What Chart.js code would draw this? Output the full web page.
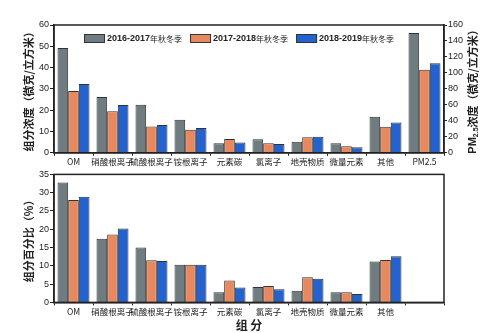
<!DOCTYPE html>
<html>
<head>
<meta charset="utf-8">
<script src="https://cdn.jsdelivr.net/npm/chart.js@4"></script>
<style>
  html, body { margin: 0; padding: 0; background: #fff; }
  #wrap { position: relative; width: 500px; height: 333px; }
  .box { position: absolute; left: 0; width: 500px; }
</style>
</head>
<body>
<div id="wrap">
  <div class="box" style="top:0;height:168px"><canvas id="top"></canvas></div>
  <div class="box" style="top:168px;height:165px"><canvas id="bottom"></canvas></div>
</div>
<script>
const categorias = ['OM', '硝酸根离子', '硫酸根离子', '铵根离子', '元素碳', '氯离子', '地壳物质', '微量元素', '其他', 'PM2.5'];
const temporadas = ['2016-2017年秋冬季', '2017-2018年秋冬季', '2018-2019年秋冬季'];
const cores = ['#6f7c80', '#e8885e', '#2463cf'];

// concentração (µg/m3), eixo esquerdo
const conc1617 = [49.2, 26.2, 22.6, 15.5, 4.5, 6.4, 5.2, 4.5, 16.9];
const conc1718 = [29.0, 19.5, 12.3, 10.8, 6.5, 4.5, 7.3, 3.1, 12.2];
const conc1819 = [32.3, 22.5, 13.0, 11.6, 4.8, 4.1, 7.5, 2.6, 14.2];
// PM2.5, eixo direito
const pm25 = [150, 104, 112];

// percentual (%)
const pct1617 = [32.8, 17.4, 15.0, 10.3, 2.8, 4.2, 3.2, 2.8, 11.2];
const pct1718 = [28.0, 18.6, 11.5, 10.3, 6.0, 4.5, 6.9, 2.8, 11.6];
const pct1819 = [28.9, 20.2, 11.3, 10.3, 4.1, 3.6, 6.5, 2.3, 12.6];

const fonteCJK = '"Noto Sans CJK SC", sans-serif';
const fonteNum = '"Liberation Sans", Arial, sans-serif';

// moldura em volta da área do gráfico
const moldura = {
    id: 'moldura',
    afterDraw(chart) {
        const a = chart.chartArea, c = chart.ctx;
        c.save();
        c.strokeStyle = '#222';
        c.lineWidth = 1.5;
        c.strokeRect(a.left, a.top, a.right - a.left, a.bottom - a.top);
        c.restore();
    }
};

// legenda dentro da área
const legendaInterna = {
    id: 'legendaInterna',
    afterDraw(chart) {
        const c = chart.ctx;
        let x = chart.chartArea.left + 30;
        const y = chart.chartArea.top + 9;
        c.save();
        c.textBaseline = 'middle';
        temporadas.forEach((t, i) => {
            c.fillStyle = cores[i];
            c.fillRect(x, y, 21, 9);
            c.strokeStyle = '#333';
            c.lineWidth = 1;
            c.strokeRect(x + 0.5, y + 0.5, 20, 8);
            c.fillStyle = '#222';
            const ano = t.replace('年秋冬季', '');
            c.font = 'bold 9px ' + fonteNum;
            c.fillText(ano, x + 23, y + 5);
            const w = c.measureText(ano).width;
            c.font = '8px ' + fonteCJK;
            c.fillText('年秋冬季', x + 23 + w, y + 5);
            x += 23 + w + c.measureText('年秋冬季').width + 8;
        });
        c.restore();
    }
};

// título do eixo direito com subscrito
const tituloDireito = {
    id: 'tituloDireito',
    afterDraw(chart) {
        const c = chart.ctx, a = chart.chartArea;
        c.save();
        c.translate(473, (a.top + a.bottom) / 2);
        c.rotate(-Math.PI / 2);
        c.fillStyle = '#222';
        c.textBaseline = 'middle';
        const partes = [
            ['PM', 'bold 11px ' + fonteNum, 0],
            ['2.5', 'bold 7px ' + fonteNum, 3],
            ['浓度（微克/立方米）', 'bold 11px ' + fonteCJK, 0]
        ];
        let total = 0;
        partes.forEach(p => { c.font = p[1]; total += c.measureText(p[0]).width; });
        let x = -total / 2;
        partes.forEach(p => {
            c.font = p[1];
            c.fillText(p[0], x, p[2]);
            x += c.measureText(p[0]).width;
        });
        c.restore();
    }
};

function comNulo(arr) { return arr.concat([null]); }
function soPm(v) { return Array(9).fill(null).concat([v]); }

const eixoX = (rotulos) => ({
    offset: true,
    border: { color: '#222', width: 1.5 },
    grid: { offset: true, drawOnChartArea: false, tickLength: 3, color: '#222' },
    ticks: {
        font: { size: 8.5, family: fonteCJK },
        color: '#222',
        maxRotation: 0,
        autoSkip: false,
        padding: 1,
        callback: (v, i) => rotulos[i]
    }
});

const eixoY = (max, passo, titulo) => ({
    min: 0, max: max,
    afterFit: s => { s.width = 32; },
    border: { color: '#222', width: 1.5 },
    grid: { drawOnChartArea: false, tickLength: 4, color: '#222' },
    ticks: { stepSize: passo, font: { size: 9, family: fonteNum }, color: '#222', padding: 1 },
    title: { display: true, text: titulo, font: { size: 11, weight: 'bold', family: fonteCJK }, color: '#222', padding: 0 }
});

const barraBase = {
    borderColor: '#333',
    borderWidth: 1,
    borderSkipped: 'bottom',
    categoryPercentage: 0.82,
    barPercentage: 1.0
};

new Chart(document.getElementById('top'), {
    type: 'bar',
    data: {
        labels: categorias,
        datasets: [
            { ...barraBase, label: temporadas[0], data: comNulo(conc1617), backgroundColor: cores[0], yAxisID: 'y' },
            { ...barraBase, label: temporadas[1], data: comNulo(conc1718), backgroundColor: cores[1], yAxisID: 'y' },
            { ...barraBase, label: temporadas[2], data: comNulo(conc1819), backgroundColor: cores[2], yAxisID: 'y' },
            { ...barraBase, label: temporadas[0], data: soPm(pm25[0]), backgroundColor: cores[0], yAxisID: 'y1' },
            { ...barraBase, label: temporadas[1], data: soPm(pm25[1]), backgroundColor: cores[1], yAxisID: 'y1' },
            { ...barraBase, label: temporadas[2], data: soPm(pm25[2]), backgroundColor: cores[2], yAxisID: 'y1' }
        ]
    },
    options: {
        responsive: true,
        maintainAspectRatio: false,
        animation: false,
        skipNull: true,
        layout: { padding: { top: 25, left: 22, right: 0, bottom: 0 } },
        plugins: { legend: { display: false }, tooltip: { enabled: false } },
        scales: {
            x: eixoX(categorias),
            y: eixoY(60, 10, '组分浓度（微克/立方米）'),
            y1: {
                position: 'right',
                min: 0, max: 160,
                afterFit: s => { s.width = 56; },
                border: { color: '#222', width: 1.5 },
                grid: { drawOnChartArea: false, tickLength: 3, color: '#222' },
                ticks: { stepSize: 20, font: { size: 9, family: fonteNum }, color: '#222', padding: 1 }
            }
        }
    },
    plugins: [moldura, legendaInterna, tituloDireito]
});

new Chart(document.getElementById('bottom'), {
    type: 'bar',
    data: {
        labels: categorias,
        datasets: [
            { ...barraBase, label: temporadas[0], data: comNulo(pct1617), backgroundColor: cores[0] },
            { ...barraBase, label: temporadas[1], data: comNulo(pct1718), backgroundColor: cores[1] },
            { ...barraBase, label: temporadas[2], data: comNulo(pct1819), backgroundColor: cores[2] }
        ]
    },
    options: {
        responsive: true,
        maintainAspectRatio: false,
        animation: false,
        layout: { padding: { top: 1, left: 22, right: 56, bottom: 0 } },
        plugins: { legend: { display: false }, tooltip: { enabled: false } },
        scales: {
            x: {
                ...eixoX(categorias.slice(0, 9).concat([''])),
                title: { display: true, text: '组 分', font: { size: 12, weight: 'bold', family: fonteCJK }, color: '#222', padding: { top: 1, bottom: 0 } }
            },
            y: eixoY(35, 5, '组分百分比（%）')
        }
    },
    plugins: [moldura]
});
</script>
</body>
</html>
